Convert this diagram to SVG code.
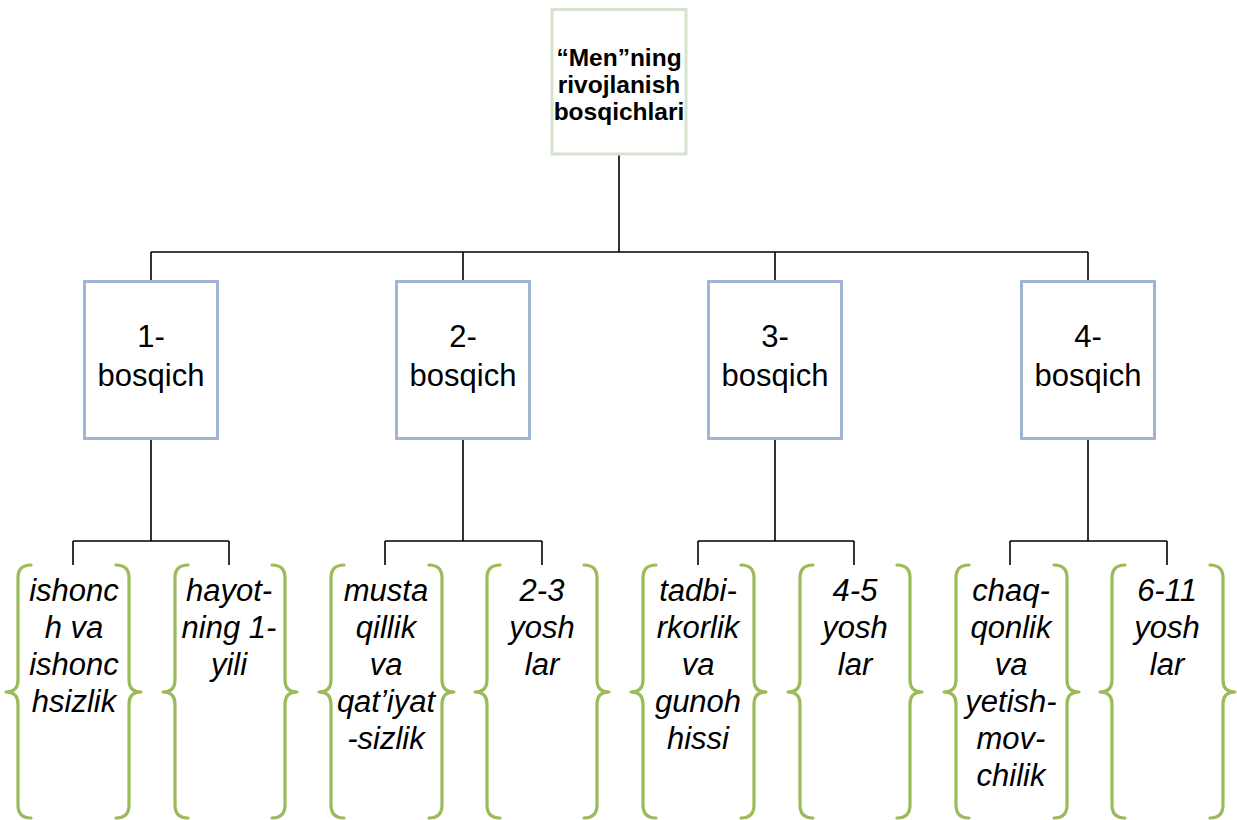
<svg xmlns="http://www.w3.org/2000/svg" width="1237" height="820" viewBox="0 0 1237 820">
<style>
.root{fill:#fff;stroke:#d5e3ce;stroke-width:3}
.box{fill:#fff;stroke:#a1b5d2;stroke-width:3}
.br{fill:none;stroke:#9bbb59;stroke-width:3.2;stroke-linecap:round;stroke-linejoin:round}
.cn{fill:none;stroke:#000;stroke-width:1.6}
.t1{font-family:"Liberation Sans",Arial,sans-serif;font-weight:bold;font-size:24.5px;fill:#000;text-anchor:middle}
.t2{font-family:"Liberation Sans",Arial,sans-serif;font-size:31px;fill:#000;text-anchor:middle}
.t3{font-family:"Liberation Sans",Arial,sans-serif;font-style:italic;font-size:31px;fill:#000;text-anchor:middle}
</style>
<defs>
<path id="lb" d="M13,0 Q0,0 0,13 L0,115 Q0,127 -12,127 Q0,127 0,139 L0,240 Q0,253 13,253"/>
<path id="rb" d="M-13,0 Q0,0 0,13 L0,115 Q0,127 12,127 Q0,127 0,139 L0,240 Q0,253 -13,253"/>
</defs>
<g id="connectors">
<path class="cn" d="M619,155 V252 M151,252 H1088 M151,252 V280 M463,252 V280 M775,252 V280 M1088,252 V280"/>
<path class="cn" d="M151,440 V541 M73,541 H229 M73,541 V565 M229,541 V565"/>
<path class="cn" d="M463,440 V541 M385,541 H542 M385,541 V565 M542,541 V565"/>
<path class="cn" d="M775,440 V541 M698,541 H854 M698,541 V565 M854,541 V565"/>
<path class="cn" d="M1088,440 V541 M1010,541 H1167 M1010,541 V565 M1167,541 V565"/>
</g>
<g id="root">
<rect class="root" x="552" y="9.5" width="134" height="144.5"/>
<text class="t1" x="619" y="66">“Men”ning</text>
<text class="t1" x="619" y="93">rivojlanish</text>
<text class="t1" x="619" y="120">bosqichlari</text>
</g>
<g id="stage1">
<rect class="box" x="84.5" y="281.5" width="133" height="157"/>
<text class="t2" x="151" y="347">1-</text>
<text class="t2" x="151" y="386">bosqich</text>
</g>
<g id="stage2">
<rect class="box" x="396.5" y="281.5" width="133" height="157"/>
<text class="t2" x="463" y="347">2-</text>
<text class="t2" x="463" y="386">bosqich</text>
</g>
<g id="stage3">
<rect class="box" x="708.5" y="281.5" width="133" height="157"/>
<text class="t2" x="775" y="347">3-</text>
<text class="t2" x="775" y="386">bosqich</text>
</g>
<g id="stage4">
<rect class="box" x="1021.5" y="281.5" width="133" height="157"/>
<text class="t2" x="1088" y="347">4-</text>
<text class="t2" x="1088" y="386">bosqich</text>
</g>
<g id="item1a">
<use href="#lb" class="br" transform="translate(18,565)"/>
<use href="#rb" class="br" transform="translate(129,565)"/>
<text class="t3" x="74" y="601">ishonc</text>
<text class="t3" x="74" y="638">h va</text>
<text class="t3" x="74" y="675">ishonc</text>
<text class="t3" x="74" y="712">hsizlik</text>
</g>
<g id="item1b">
<use href="#lb" class="br" transform="translate(175,565)"/>
<use href="#rb" class="br" transform="translate(285,565)"/>
<text class="t3" x="229" y="601">hayot-</text>
<text class="t3" x="229" y="638">ning 1-</text>
<text class="t3" x="229" y="675">yili</text>
</g>
<g id="item2a">
<use href="#lb" class="br" transform="translate(331,565)"/>
<use href="#rb" class="br" transform="translate(442,565)"/>
<text class="t3" x="386" y="601">musta</text>
<text class="t3" x="386" y="638">qillik</text>
<text class="t3" x="386" y="675">va</text>
<text class="t3" x="386" y="712">qat’iyat</text>
<text class="t3" x="386" y="749">-sizlik</text>
</g>
<g id="item2b">
<use href="#lb" class="br" transform="translate(487,565)"/>
<use href="#rb" class="br" transform="translate(597,565)"/>
<text class="t3" x="542" y="601">2-3</text>
<text class="t3" x="542" y="638">yosh</text>
<text class="t3" x="542" y="675">lar</text>
</g>
<g id="item3a">
<use href="#lb" class="br" transform="translate(643,565)"/>
<use href="#rb" class="br" transform="translate(754,565)"/>
<text class="t3" x="698" y="601">tadbi-</text>
<text class="t3" x="698" y="638">rkorlik</text>
<text class="t3" x="698" y="675">va</text>
<text class="t3" x="698" y="712">gunoh</text>
<text class="t3" x="698" y="749">hissi</text>
</g>
<g id="item3b">
<use href="#lb" class="br" transform="translate(800,565)"/>
<use href="#rb" class="br" transform="translate(910,565)"/>
<text class="t3" x="855" y="601">4-5</text>
<text class="t3" x="855" y="638">yosh</text>
<text class="t3" x="855" y="675">lar</text>
</g>
<g id="item4a">
<use href="#lb" class="br" transform="translate(956,565)"/>
<use href="#rb" class="br" transform="translate(1067,565)"/>
<text class="t3" x="1011" y="601">chaq-</text>
<text class="t3" x="1011" y="638">qonlik</text>
<text class="t3" x="1011" y="675">va</text>
<text class="t3" x="1011" y="712">yetish-</text>
<text class="t3" x="1011" y="749">mov-</text>
<text class="t3" x="1011" y="786">chilik</text>
</g>
<g id="item4b">
<use href="#lb" class="br" transform="translate(1112,565)"/>
<use href="#rb" class="br" transform="translate(1223,565)"/>
<text class="t3" x="1167" y="601">6-11</text>
<text class="t3" x="1167" y="638">yosh</text>
<text class="t3" x="1167" y="675">lar</text>
</g>
</svg>
